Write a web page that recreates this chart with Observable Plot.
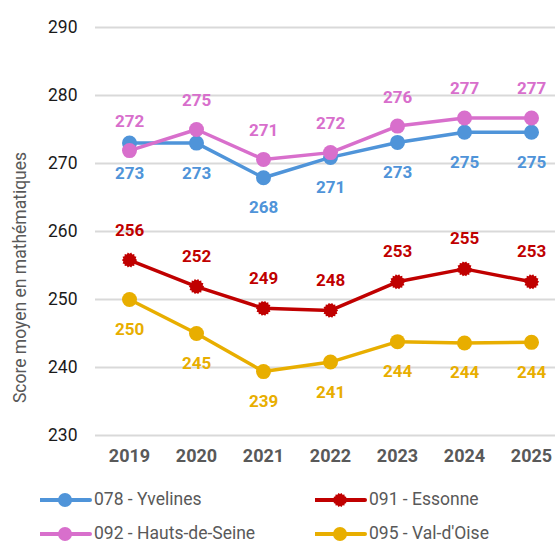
<!DOCTYPE html>
<html>
<head>
<meta charset="utf-8">
<script src="https://cdn.jsdelivr.net/npm/d3@7"></script>
<script src="https://cdn.jsdelivr.net/npm/@observablehq/plot@0.6"></script>
<style>
  html, body { margin: 0; padding: 0; background: #fff; }
  body { font-family: Roboto, "Noto Sans", sans-serif; width: 555px; }
  #legend { display: grid; grid-template-columns: 275px 280px; padding-top: 8px; }
  .item { display: flex; align-items: center; height: 34px; font-size: 17.5px; line-height: 1; color: #595959; }
  .item svg { flex: none; }
</style>
</head>
<body>
<div id="chart"></div>
<div id="legend"></div>
<script>
const years = [2019, 2020, 2021, 2022, 2023, 2024, 2025];
const yvelines     = [273.0, 273.0, 267.9, 270.9, 273.1, 274.6, 274.6];
const essonne      = [255.8, 251.9, 248.7, 248.4, 252.6, 254.5, 252.6];
const hautsDeSeine = [271.9, 275.0, 270.6, 271.6, 275.5, 276.7, 276.7];
const valDOise     = [250.0, 245.0, 239.4, 240.8, 243.8, 243.6, 243.7];
const seriesNames  = ["078 - Yvelines", "091 - Essonne", "092 - Hauts-de-Seine", "095 - Val-d'Oise"];
const yTicks = [230, 240, 250, 260, 270, 280, 290];
const yTitle = "Score moyen en mathématiques";

const colors = ["#4f94d9", "#c00000", "#d86fcc", "#e8ae00"];
const labelDy = [30, -30, -29, 30];
const values = [yvelines, essonne, hautsDeSeine, valDOise];

const jagged = {
  draw(context, size) {
    const r = Math.sqrt(size / Math.PI);
    const n = 28;
    for (let i = 0; i < n; i++) {
      const a = (i / n) * 2 * Math.PI;
      const rr = i % 2 ? r * 0.84 : r * 1.02;
      const px = rr * Math.cos(a), py = rr * Math.sin(a);
      if (i === 0) context.moveTo(px, py); else context.lineTo(px, py);
    }
    context.closePath();
  }
};
const symbols = ["circle", jagged, "circle", "circle"];

const tables = values.map((vals, s) => years.map((year, i) => ({year, value: vals[i], series: seriesNames[s]})));

const seriesMarks = [];
[0, 1, 2, 3].forEach(s => {
  seriesMarks.push(Plot.line(tables[s], {x: "year", y: "value", stroke: colors[s], strokeWidth: 3.5, curve: "linear"}));
  seriesMarks.push(Plot.dot(tables[s], {x: "year", y: "value", fill: colors[s], r: 7.5, symbol: symbols[s]}));
});
const labelMarks = [0, 1, 2, 3].map(s =>
  Plot.text(tables[s], {x: "year", y: "value", text: d => String(Math.round(d.value)), dy: labelDy[s],
    fill: colors[s], fontWeight: "bold", fontSize: 17, lineAnchor: "middle"})
);

const chart = Plot.plot({
  width: 555,
  height: 475,
  marginTop: 27,
  marginBottom: 40,
  marginLeft: 95,
  marginRight: 0,
  style: {fontFamily: "Roboto, 'Noto Sans', sans-serif", background: "#fff"},
  x: {type: "point", domain: years, range: [128, 532], padding: 0},
  y: {domain: [230, 290]},
  marks: [
    Plot.gridY(yTicks, {stroke: "#d9d9d9", strokeOpacity: 1, strokeWidth: 2}),
    Plot.axisY(yTicks, {tickSize: 0, tickPadding: 18, fontSize: 17.5, fill: "#1a1a1a", label: null}),
    Plot.axisX(years, {tickSize: 0, tickPadding: 14, fontSize: 18, fontWeight: "bold", fill: "#595959", label: null, tickFormat: d => String(d)}),
    Plot.text([yTitle], {frameAnchor: "left", textAnchor: "middle", dx: -75, dy: 46, rotate: -90, fontSize: 17.5, fill: "#595959"}),
    ...seriesMarks,
    ...labelMarks
  ]
});
document.getElementById("chart").append(chart);

// Legend (2 x 2 grid, filled row-wise)
const legend = d3.select("#legend");
[0, 1, 2, 3].forEach(s => {
  const item = legend.append("div").attr("class", "item").style("padding-left", "40px");
  const svg = item.append("svg").attr("width", 54).attr("height", 20);
  svg.append("line").attr("x1", 0).attr("x2", 50).attr("y1", 10).attr("y2", 10)
    .attr("stroke", colors[s]).attr("stroke-width", 4).attr("stroke-linecap", "round");
  if (s === 1) {
    svg.append("path").attr("transform", "translate(25,10)").attr("fill", colors[s])
      .attr("d", (() => { const p = d3.path(); jagged.draw(p, Math.PI * 49); return p.toString(); })());
  } else {
    svg.append("circle").attr("cx", 25).attr("cy", 10).attr("r", 7).attr("fill", colors[s]);
  }
  item.append("span").text(seriesNames[s]);
});
</script>
</body>
</html>
